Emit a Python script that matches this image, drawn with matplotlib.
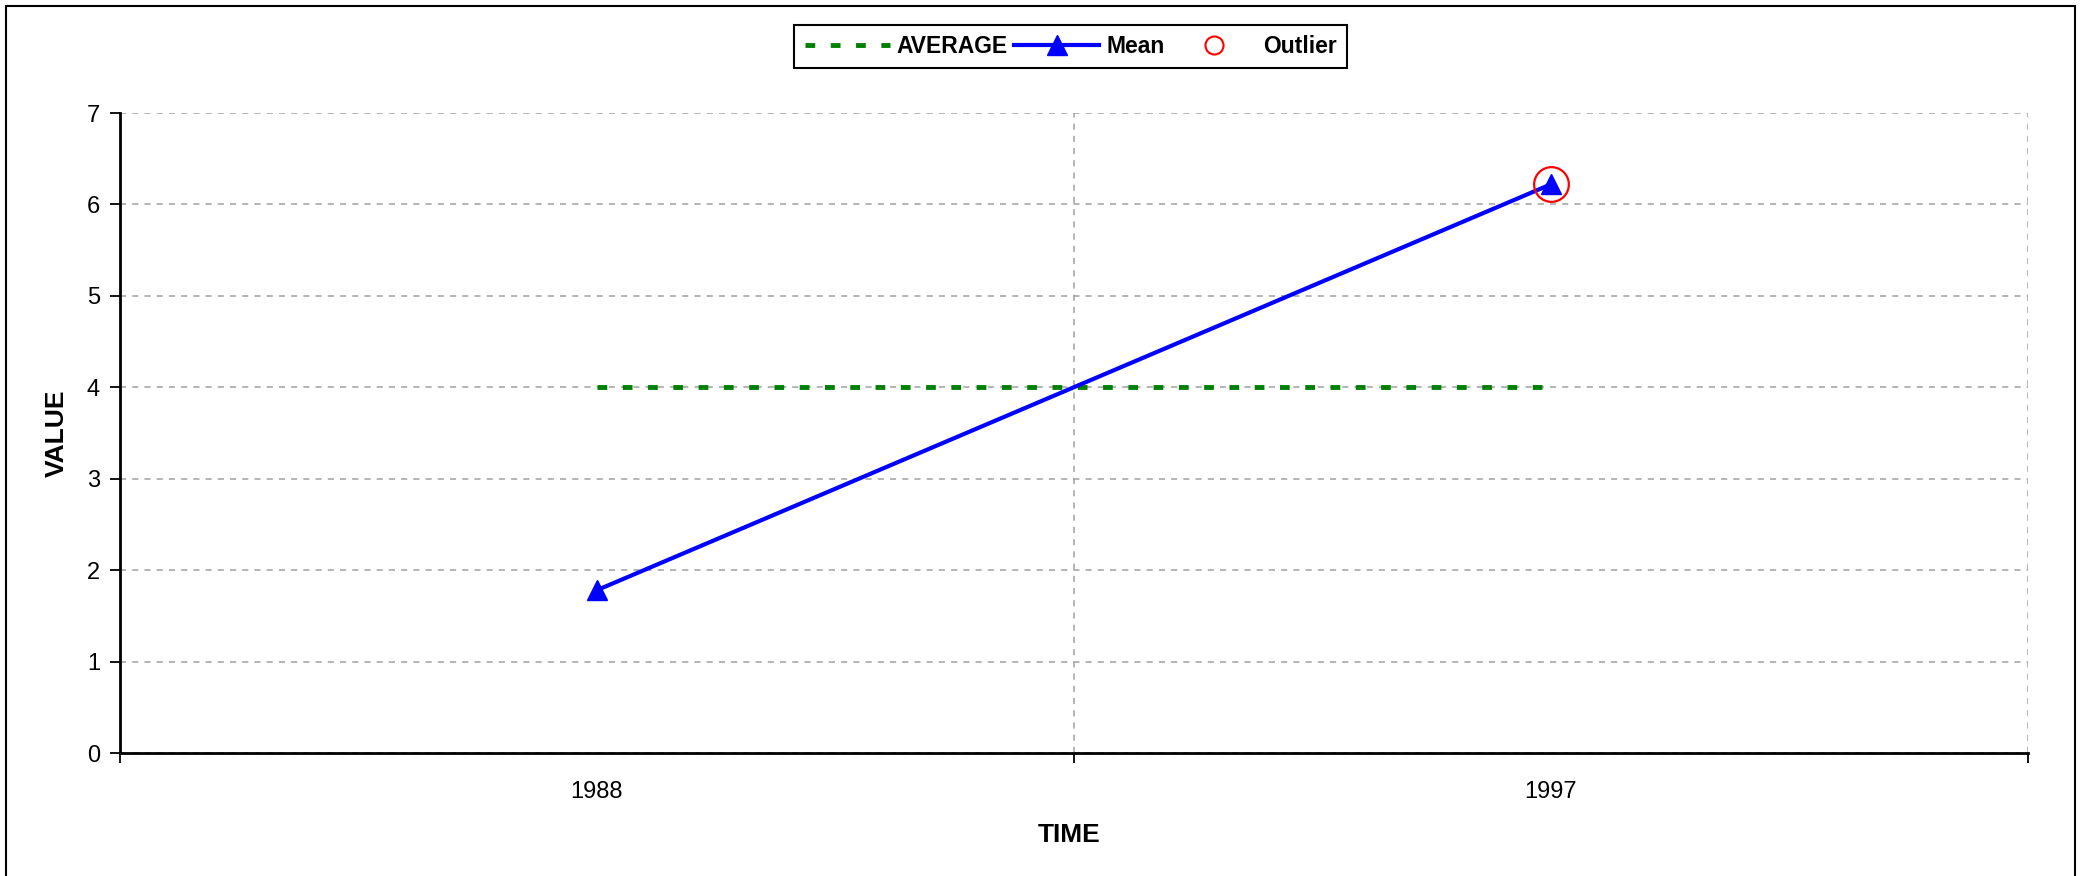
import matplotlib
matplotlib.use("Agg")
import matplotlib.pyplot as plt
from matplotlib.lines import Line2D
from matplotlib.patches import Rectangle
import numpy as np

plt.rcParams['font.family'] = ['Liberation Sans', 'DejaVu Sans']

# data
years = ['1988', '1997']
mean_vals = [1.78, 6.22]
outlier_idx = [1]
average = np.mean(mean_vals)

x = np.arange(len(years)) + 0.5

W, H = 2083, 876
fig = plt.figure(figsize=(W / 100, H / 100), dpi=100)
ax = fig.add_axes([0.0574, 0.1404, 0.9162, 0.7306])

# average line across the categories
ax.plot([x[0], x[-1]], [average, average], color='#008000', lw=3.5,
        dashes=(2, 3.2), zorder=3)
# mean series
ax.plot(x, mean_vals, color='#0000ff', lw=3, marker='^', markersize=15,
        markeredgecolor='#0000ff', zorder=4)
# outliers
ax.plot(x[outlier_idx], [mean_vals[i] for i in outlier_idx], linestyle='none',
        marker='o', markersize=25, markerfacecolor='none',
        markeredgecolor='#ff0000', markeredgewidth=1.6, zorder=5)

ax.set_xlim(0, len(years))
ax.set_ylim(0, 7)
ax.set_yticks(range(0, 8))
ax.set_xticks(np.arange(0, len(years) + 1))
ax.set_xticks(x, minor=True)
ax.set_xticklabels([])
ax.set_xticklabels(years, minor=True)
ax.tick_params(axis='x', which='minor', length=0, pad=20, labelsize=17)
ax.tick_params(axis='x', which='major', length=7, width=1.3, direction='out')
ax.tick_params(axis='y', length=7, width=1.3, direction='out', labelsize=17, pad=7)

ax.grid(True, which='major', color='#a0a0a0', linestyle=(0, (4, 4)), lw=1.1)
ax.set_axisbelow(True)

for side in ['top', 'right']:
    ax.spines[side].set_visible(False)
for side in ['left', 'bottom']:
    ax.spines[side].set_linewidth(2)

ax.set_xlabel('TIME', fontsize=19, fontweight='bold')
ax.set_ylabel('VALUE', fontsize=19, fontweight='bold')
ax.xaxis.label.set_va('center')
ax.yaxis.label.set_va('center')
ax.xaxis.set_label_coords(0.5135, 1 - 835 / H, transform=fig.transFigure)
ax.yaxis.set_label_coords(57 / W, 1 - 433 / H, transform=fig.transFigure)

# legend
handles = [
    Line2D([], [], color='#008000', lw=3.5, dashes=(2, 3.2)),
    Line2D([], [], color='#0000ff', lw=3, marker='^', markersize=14),
    Line2D([], [], linestyle='none', marker='o', markersize=13,
           markerfacecolor='none', markeredgecolor='#ff0000', markeredgewidth=1.5),
]
leg = fig.legend(handles, ['AVERAGE', 'Mean', 'Outlier'], loc='center',
                 bbox_to_anchor=(0.514, 0.947), ncol=3, fancybox=False,
                 edgecolor='black', framealpha=1, handlelength=3.7,
                 handletextpad=0.3, columnspacing=0.3, borderpad=0.45,
                 prop={'size': 16.5, 'weight': 'bold'})
leg.get_frame().set_linewidth(1.5)

# outer frame
fig.patches.append(Rectangle((0.003, -0.1), 0.993, 1.093, transform=fig.transFigure,
                             fill=False, edgecolor='black', lw=1.5))

fig.savefig('out.png', dpi=100)
